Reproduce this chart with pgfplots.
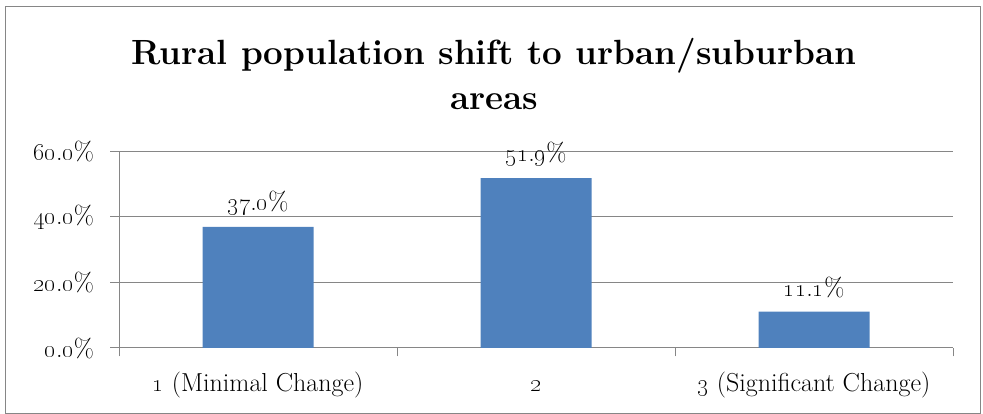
\documentclass[border=0pt]{standalone}
\usepackage{pgfplots}
\pgfplotsset{compat=1.18}
\definecolor{barblue}{HTML}{4F81BD}
\definecolor{gridgray}{HTML}{868686}
\newcommand{\os}[2]{\oldstylenums{#1}.\oldstylenums{#2}\%}
\begin{document}
\begin{tikzpicture}
\path[use as bounding box] (0,0) rectangle (983pt,414pt);
\draw[gridgray, line width=1pt] (5pt,0.8pt) rectangle (980pt,407pt);
\begin{axis}[
  at={(119pt,66pt)}, anchor=south west,
  scale only axis, width=834pt, height=196.5pt,
  xmin=-0.5, xmax=2.5, ymin=0, ymax=60,
  ytick={0,20,40,60},
  yticklabels={\os{0}{0},\os{20}{0},\os{40}{0},\os{60}{0}},
  xtick={-0.5,0.5,1.5,2.5},
  xticklabels={},
  extra x ticks={0,1,2},
  extra x tick labels={\oldstylenums{1} (Minimal Change),\oldstylenums{2},\oldstylenums{3} (Significant Change)},
  extra x tick style={grid=none, tick style={draw=none}},
  tick style={gridgray, line width=1pt},
  tick align=outside,
  major tick length=8.5pt,
  ymajorgrids, grid style={gridgray, line width=1pt},
  axis line style={gridgray, line width=1pt},
  axis x line*=bottom, axis y line*=left,
  tick label style={font=\fontsize{26}{30}\selectfont, text=black},
  yticklabel style={xshift=-13pt},
  xticklabel style={yshift=-11.5pt, text height=19.5pt, text depth=6.5pt},
  title={Rural population shift to urban/suburban\\areas},
  title style={font=\fontsize{35}{45}\selectfont\bfseries, align=center, at={(rel axis cs:0.4496,1.1807)}, anchor=base},
  ybar, bar width=111pt,
  point meta=explicit symbolic,
  nodes near coords,
  nodes near coords style={font=\fontsize{26}{30}\selectfont, anchor=center, yshift=24pt, text=black},
]
\addplot[fill=barblue, draw=none] coordinates {(0,37.0) [\os{37}{0}] (1,51.9) [\os{51}{9}] (2,11.1) [\os{11}{1}]};
\end{axis}
\end{tikzpicture}
\end{document}
